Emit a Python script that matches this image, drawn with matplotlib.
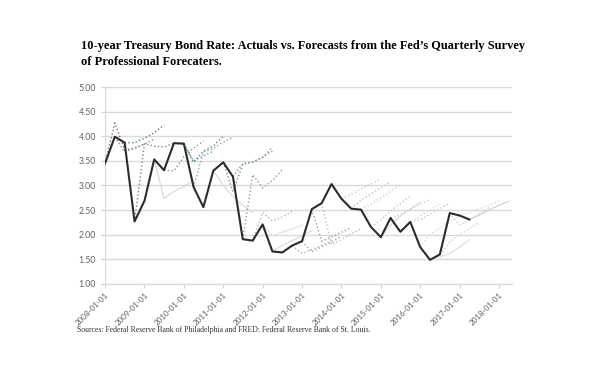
import matplotlib
matplotlib.use('Agg')
import matplotlib.pyplot as plt
import matplotlib.dates as mdates
import pandas as pd

# quarterly actuals, 2008Q1 .. 2017Q2
actual_start = '2008-01-01'
actual = [3.45, 3.99, 3.87, 2.27,
          2.69, 3.53, 3.31, 3.86,
          3.85, 2.97, 2.56, 3.30,
          3.47, 3.18, 1.91, 1.88,
          2.21, 1.66, 1.64, 1.78,
          1.87, 2.52, 2.64, 3.03,
          2.73, 2.53, 2.51, 2.16,
          1.95, 2.34, 2.06, 2.26,
          1.75, 1.49, 1.60, 2.44,
          2.39, 2.31]

# forecasts: survey quarter (index from 2008Q1) and path
fc_quarter = [0, 1, 2, 3, 5, 6, 7, 8, 9, 11, 12, 13, 14, 15, 16, 17,
              19, 20, 21, 22, 24, 25, 26, 27, 28, 29, 30, 31, 32, 33,
              34, 35, 36, 37]
fc_values = [
    [3.45, 4.27, 3.72, 3.76, 3.84],
    [3.99, 3.68, 3.76, 3.84, 3.94],
    [3.87, 3.87, 3.96, 4.07, 4.23],
    [2.27, 3.85, 3.80, 3.78, 3.86],
    [3.53, 2.74, 2.88, 2.98, 3.10],
    [3.31, 3.30, 3.58, 3.76, 3.90],
    [3.86, 3.83, 3.50, 3.60, 3.70],
    [3.85, 3.47, 3.70, 3.80, 4.00],
    [2.97, 3.68, 3.75, 3.88, 3.98],
    [3.30, 3.00, 2.78, 2.60, 2.45],
    [3.47, 2.87, 3.43, 3.48, 3.57, 3.78],
    [3.18, 3.45, 3.47, 3.58, 3.70],
    [1.91, 3.22, 2.95, 3.10, 3.32],
    [1.89, 2.45, 2.28, 2.36, 2.47],
    [2.21, 1.98, 2.05, 2.12, 2.20],
    [1.66, 1.78, 1.88, 1.98, 2.08],
    [1.78, 1.62, 1.70, 1.78, 1.88],
    [1.86, 1.65, 1.75, 1.85, 1.97],
    [2.52, 1.87, 1.95, 2.05, 2.15],
    [2.64, 1.80, 1.90, 2.02, 2.12],
    [2.73, 2.82, 2.93, 3.03, 3.13],
    [2.53, 2.70, 2.83, 2.95, 3.07],
    [2.51, 2.62, 2.75, 2.88, 3.02],
    [2.16, 2.30, 2.48, 2.63, 2.78],
    [1.95, 2.20, 2.38, 2.52, 2.66],
    [2.34, 2.42, 2.52, 2.62, 2.72],
    [2.06, 2.25, 2.38, 2.50, 2.62],
    [2.26, 2.30, 2.42, 2.53, 2.65],
    [1.75, 2.00, 2.14, 2.26, 2.38],
    [1.49, 1.55, 1.62, 1.75, 1.90],
    [1.60, 1.85, 2.00, 2.12, 2.25],
    [2.44, 2.20, 2.30, 2.42, 2.55],
    [2.39, 2.45, 2.53, 2.60, 2.68],
    [2.31, 2.40, 2.50, 2.60, 2.68],
]

yticks = [1.0, 1.5, 2.0, 2.5, 3.0, 3.5, 4.0, 4.5, 5.0]
xtick_years = list(range(2008, 2019))

title = ("10-year Treasury Bond Rate: Actuals vs. Forecasts from the Fed\u2019s Quarterly Survey\n"
         "of Professional Forecaters.")
source = ("Sources: Federal Reserve Bank of Philadelphia and FRED: "
          "Federal Reserve Bank of St. Louis.")

# line styles for the forecast paths (early ones coloured, later ones grey)
fc_colors = ['#a35f5f', '#7d8fa3', '#4e7f8e', '#6d8a96', '#d6d6d6', '#b77c88',
             '#5b9aa3', '#4f8d9b', '#86a9b0', '#d9d9d9', '#8c8c8c', '#6f9ca8',
             '#8b9ba2', '#b5b5b5', '#e0e0e0', '#d8d8d8', '#b0b0b0', '#a8a8a8',
             '#9c9c9c', '#bcbcbc', '#c6c6c6', '#bdbdbd', '#cfcfcf', '#c4c4c4',
             '#d6d6d6', '#cccccc', '#d2d2d2', '#c8c8c8', '#d4d4d4', '#dcdcdc',
             '#cfcfcf', '#d0d0d0', '#d8d8d8', '#cdcdcd']
fc_styles = [':', ':', ':', ':', '-', ':', ':', ':', ':', '-', ':', ':',
             ':', ':', '-', '-', ':', ':', ':', ':', ':', ':', ':', ':',
             '-', ':', ':', ':', ':', '-', ':', ':', ':', '-']

quarters = pd.date_range(actual_start, periods=48, freq='QS')

fig = plt.figure(figsize=(5.95, 3.69), dpi=100)
ax = fig.add_axes([0.1765, 0.2304, 0.684, 0.5338])

for q, vals, c, ls in zip(fc_quarter, fc_values, fc_colors, fc_styles):
    ax.plot(quarters[q:q + len(vals)], vals, color=c, linestyle=ls,
            linewidth=1.0 if ls == ':' else 0.8, zorder=2)

ax.plot(quarters[:len(actual)], actual, color='#2b2b2b', linewidth=1.5, zorder=3)

ax.set_ylim(1, 5)
ax.set_xlim(pd.Timestamp('2008-01-01'), pd.Timestamp('2018-05-01'))
ax.set_yticks(yticks)
ax.yaxis.set_major_formatter(plt.FuncFormatter(lambda v, p: f'{v:.2f}'))
ax.set_xticks([pd.Timestamp(f'{y}-01-01') for y in xtick_years])
ax.xaxis.set_major_formatter(mdates.DateFormatter('%Y-%m-%d'))

ax.grid(axis='y', color='#d9d9d9', linewidth=1.0)
ax.set_axisbelow(True)
for s in ['top', 'right']:
    ax.spines[s].set_visible(False)
for s in ['left', 'bottom']:
    ax.spines[s].set_color('#d9d9d9')
ax.tick_params(axis='both', colors='#d0d0d0', length=3, labelcolor='#606060',
               labelsize=6.3)
ax.tick_params(axis='x', labelsize=5.8, pad=2)
plt.setp(ax.get_xticklabels(), rotation=45, ha='right', rotation_mode='anchor',
         family='Lato')
plt.setp(ax.get_yticklabels(), family='Lato')

fig.text(0.136, 1 - 40 / 369, title, ha='left', va='top', fontsize=8.9,
         fontweight='bold', family='Liberation Serif', linespacing=1.4)
fig.text(0.129, 1 - 330 / 369, source, ha='left', va='center', fontsize=5.6,
         family='Liberation Serif', color='#333333')

fig.savefig('out.png', dpi=100)
